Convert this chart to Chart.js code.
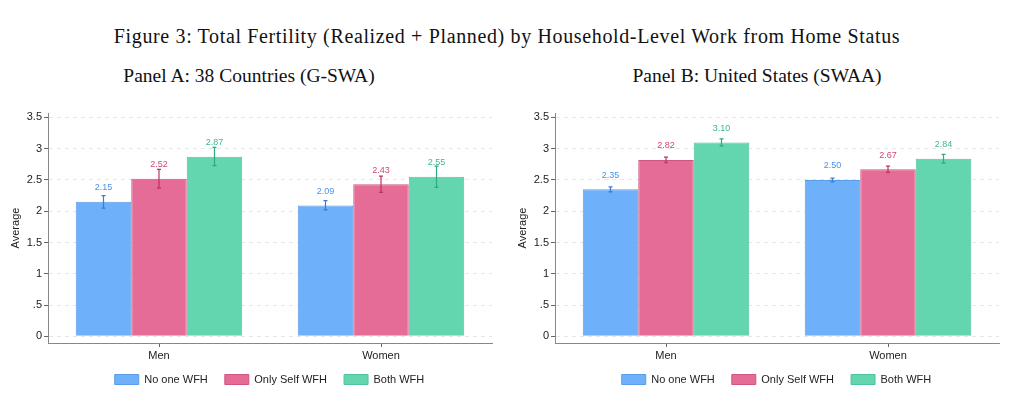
<!DOCTYPE html>
<html>
<head>
<meta charset="utf-8">
<script src="https://cdn.jsdelivr.net/npm/chart.js@4.4.1/dist/chart.umd.min.js"></script>
<style>
    html, body { margin: 0; padding: 0; background: #fff; overflow: hidden; }
    #page { position: relative; width: 1018px; height: 397px; overflow: hidden; }
    .ttl { position: absolute; font-family: 'Liberation Serif', serif; color: #111; white-space: nowrap; transform: translateX(-50%); }
    #fig-title { left: 507px; top: 25px; font-size: 20px; letter-spacing: 0.64px; }
    #panel-a { left: 249px; top: 65px; font-size: 19.5px; }
    #panel-b { left: 757px; top: 65px; font-size: 19.5px; }
    .cv { position: absolute; top: 100px; }
    #chartA { left: 0; }
    #chartB { left: 507px; }
</style>
</head>
<body>
<div id="page">
    <div class="ttl" id="fig-title">Figure 3: Total Fertility (Realized + Planned) by Household-Level Work from Home Status</div>
    <div class="ttl" id="panel-a">Panel A: 38 Countries (G-SWA)</div>
    <div class="ttl" id="panel-b">Panel B: United States (SWAA)</div>
    <canvas class="cv" id="chartA" width="539" height="297"></canvas>
    <canvas class="cv" id="chartB" width="539" height="297"></canvas>
</div>
<script>
    var categories = ['Men', 'Women'];
    var seriesNames = ['No one WFH', 'Only Self WFH', 'Both WFH'];
    var yTicks = [0, 0.5, 1, 1.5, 2, 2.5, 3, 3.5];

    // Panel A: 38 countries
    var aNoOne = [2.15, 2.09];
    var aOnlySelf = [2.52, 2.43];
    var aBoth = [2.87, 2.55];
    var aNoOneCI = [[2.05, 2.25], [2.02, 2.17]];
    var aOnlySelfCI = [[2.37, 2.67], [2.30, 2.56]];
    var aBothCI = [[2.73, 3.02], [2.38, 2.72]];

    // Panel B: United States
    var bNoOne = [2.35, 2.50];
    var bOnlySelf = [2.82, 2.67];
    var bBoth = [3.10, 2.84];
    var bNoOneCI = [[2.31, 2.39], [2.47, 2.53]];
    var bOnlySelfCI = [[2.775, 2.865], [2.62, 2.72]];
    var bBothCI = [[3.045, 3.155], [2.77, 2.91]];

    var fills = ['#6fb0fa', '#e46c96', '#63d6b0'];
    var borders = ['#5a9de8', '#cf5583', '#4fc39d'];
    var labelColors = ['#4a90e8', '#d3466f', '#3db88a'];
    var errColors = ['#3a7bd5', '#c0315f', '#2fa97a'];

    var sans = 'Liberation Sans, Arial, sans-serif';

    var barExtras = {
        id: 'barExtras',
        afterDatasetsDraw: function (chart) {
            var ctx = chart.ctx;
            var y = chart.scales.y;
            ctx.save();
            chart.data.datasets.forEach(function (ds, di) {
                var meta = chart.getDatasetMeta(di);
                meta.data.forEach(function (bar, i) {
                    var ci = ds.ci[i];
                    var top = y.getPixelForValue(ci[1]);
                    var bot = y.getPixelForValue(ci[0]);
                    ctx.strokeStyle = errColors[di];
                    ctx.lineWidth = 1.2;
                    ctx.beginPath();
                    ctx.moveTo(bar.x, top);
                    ctx.lineTo(bar.x, bot);
                    ctx.moveTo(bar.x - 2, top);
                    ctx.lineTo(bar.x + 2, top);
                    ctx.moveTo(bar.x - 2, bot);
                    ctx.lineTo(bar.x + 2, bot);
                    ctx.stroke();

                    ctx.fillStyle = labelColors[di];
                    ctx.font = '9px ' + sans;
                    ctx.textAlign = 'center';
                    ctx.textBaseline = 'middle';
                    ctx.fillText(ds.data[i].toFixed(2), bar.x, bar.y - 14);
                });
            });
            ctx.restore();
        }
    };

    function makeChart(id, vals, cis) {
        var el = document.getElementById(id);
        return new Chart(el.getContext('2d'), {
            type: 'bar',
            data: {
                labels: categories,
                datasets: seriesNames.map(function (name, k) {
                    return {
                        label: name,
                        data: vals[k],
                        ci: cis[k],
                        backgroundColor: fills[k],
                        borderColor: borders[k],
                        borderWidth: 1,
                        categoryPercentage: 0.75,
                        barPercentage: 1
                    };
                })
            },
            options: {
                responsive: false,
                animation: false,
                layout: { padding: { top: 13, left: 0, right: 0, bottom: 2 } },
                plugins: {
                    tooltip: { enabled: false },
                    legend: {
                        position: 'bottom',
                        labels: {
                            boxWidth: 24,
                            boxHeight: 10,
                            padding: 17,
                            color: '#222',
                            font: { size: 11, family: sans }
                        }
                    }
                },
                scales: {
                    x: {
                        grid: { display: true, drawOnChartArea: false, offset: false, tickLength: 4, tickColor: '#666' },
                        border: { color: '#888', width: 1 },
                        ticks: { color: '#222', font: { size: 11, family: sans }, padding: 2 },
                        afterFit: function (s) {
                            s.height = 14;
                            // labels hang below the squeezed axis box, so don't clip them
                            s._computeLabelArea = function () { return undefined; };
                        }
                    },
                    y: {
                        min: -0.107,
                        max: 3.57,
                        afterBuildTicks: function (s) {
                            s.ticks = yTicks.map(function (v) { return { value: v }; });
                        },
                        afterFit: function (s) { s.width = 48; },
                        grid: {
                            color: '#e6e6e6',
                            tickColor: '#666',
                            tickLength: 4,
                            tickBorderDash: [],
                            drawOnChartArea: true
                        },
                        border: { color: '#888', width: 1, dash: [4, 4] },
                        ticks: {
                            color: '#222',
                            font: { size: 11, family: sans },
                            padding: 2,
                            callback: function (v) {
                                return v === 0.5 ? '.5' : String(v);
                            }
                        },
                        title: {
                            display: true,
                            text: 'Average',
                            color: '#222',
                            font: { size: 11, family: sans },
                            padding: { top: 9, bottom: 0 }
                        }
                    },
                    // empty right axis, keeps the plot centred over the legend
                    yRight: {
                        position: 'right',
                        display: true,
                        grid: { display: false },
                        border: { display: false },
                        ticks: { display: false },
                        afterFit: function (s) { s.width = 47; }
                    }
                }
            },
            plugins: [barExtras]
        });
    }

    makeChart('chartA', [aNoOne, aOnlySelf, aBoth], [aNoOneCI, aOnlySelfCI, aBothCI]);
    makeChart('chartB', [bNoOne, bOnlySelf, bBoth], [bNoOneCI, bOnlySelfCI, bBothCI]);
</script>
</body>
</html>
